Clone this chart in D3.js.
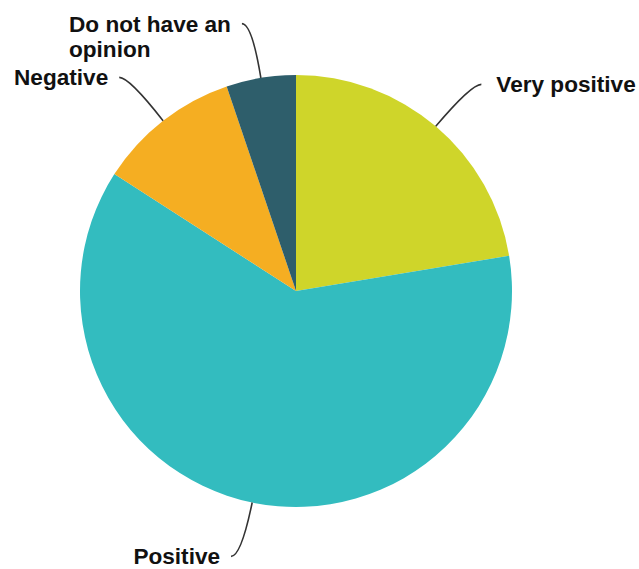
<!DOCTYPE html>
<html>
<head>
<meta charset="utf-8">
<script src="https://cdn.jsdelivr.net/npm/d3@7"></script>
<style>
  html, body { margin: 0; padding: 0; background: #fff; }
  svg { display: block; }
  .label { font-family: "Liberation Sans", Arial, sans-serif; font-weight: bold; font-size: 22.6px; fill: #111; }
  .leader { fill: none; stroke: #333; stroke-width: 1.6; }
</style>
</head>
<body>
<svg id="chart" width="639" height="569"></svg>
<script>
// Survey responses (share of respondents, %), clockwise from 12 o'clock
const categories = ["Very positive", "Positive", "Negative", "Do not have an opinion"];
const values = [22.4, 61.7, 10.7, 5.2];
const labelLines = [["Very positive"], ["Positive"], ["Negative"], ["Do not have an", "opinion"]];
const colors = ["#CFD52A", "#33BCBF", "#F5AE22", "#2E5E6B"];

const width = 639, height = 569;
const cx = 296, cy = 291, radius = 216;
const elbowOut = 55;   // leader bend distance beyond the rim
const tail = 10;       // horizontal run at the end of a leader
const gapRight = 15;   // space between leader end and label, right side
const gapLeft = 11;    // same, left side
const lineHeight = 25;

const svg = d3.select("#chart");
const g = svg.append("g").attr("transform", `translate(${cx},${cy})`);

const data = categories.map((c, i) => ({ name: c, value: values[i], lines: labelLines[i], color: colors[i] }));

const pie = d3.pie().value(d => d.value).sort(null);
const arcs = pie(data);
const arc = d3.arc().innerRadius(0).outerRadius(radius);

g.selectAll("path.slice")
  .data(arcs)
  .join("path")
  .attr("class", "slice")
  .attr("d", arc)
  .attr("fill", d => d.data.color);

// point on a circle of radius r at angle a (radians, clockwise from top)
const polar = (r, a) => [r * Math.sin(a), -r * Math.cos(a)];

arcs.forEach(d => {
  const mid = (d.startAngle + d.endAngle) / 2;
  const side = Math.sin(mid) >= 0 ? 1 : -1;
  const start = polar(radius, mid);
  const elbow = polar(radius + elbowOut, mid);
  const end = [elbow[0] + side * tail, elbow[1]];

  const p = d3.path();
  p.moveTo(start[0], start[1]);
  p.quadraticCurveTo(elbow[0], elbow[1], end[0], end[1]);
  g.append("path").attr("class", "leader").attr("d", p.toString());

  // label block: lines are left-aligned, block sits beside the leader end
  const text = g.append("text")
    .attr("class", "label")
    .attr("y", end[1]);
  const spans = d.data.lines.map((line, i) =>
    text.append("tspan")
      .attr("dy", i === 0 ? "0.35em" : lineHeight)
      .text(line));
  const blockWidth = d3.max(spans, s => s.node().getComputedTextLength());
  const x0 = side > 0 ? end[0] + gapRight : end[0] - gapLeft - blockWidth;
  spans.forEach(s => s.attr("x", x0));
});
</script>
</body>
</html>
